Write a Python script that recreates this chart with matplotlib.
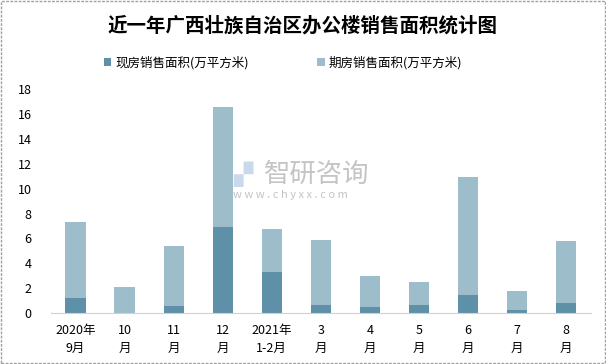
import matplotlib.pyplot as plt
import numpy as np

plt.rcParams['font.family'] = ['Noto Sans CJK SC', 'DejaVu Sans']

# 数据
months = ["2020年\n9月", "10\n月", "11\n月", "12\n月", "2021年\n1-2月",
          "3\n月", "4\n月", "5\n月", "6\n月", "7\n月", "8\n月"]
xianfang = [1.23, 0.02, 0.59, 6.93, 3.31, 0.67, 0.50, 0.67, 1.47, 0.27, 0.83]
total = [7.33, 2.11, 5.40, 16.56, 6.77, 5.88, 2.99, 2.51, 10.94, 1.79, 5.80]
qifang = [t - x for t, x in zip(total, xianfang)]

c_dark = "#5e91a8"
c_light = "#9ebdca"

fig = plt.figure(figsize=(6.06, 3.64), dpi=100)
ax = fig.add_axes([0.084, 0.14, 0.891, 0.615])

x = np.arange(len(months))
ax.bar(x, xianfang, width=0.41, color=c_dark, label="现房销售面积(万平方米)")
ax.bar(x, qifang, width=0.41, bottom=xianfang, color=c_light,
       label="期房销售面积(万平方米)")

ax.set_xlim(-0.5, len(months) - 0.5)
ax.set_ylim(0, 18)
ax.set_yticks(range(0, 19, 2))
ax.set_xticks(x)
ax.set_xticklabels(months, fontsize=9, linespacing=1.5)
ax.tick_params(axis='y', length=0, pad=14, labelsize=9)
ax.tick_params(axis='x', length=0, pad=8)
for s in ["top", "right", "left"]:
    ax.spines[s].set_visible(False)
ax.spines["bottom"].set_color("#d0d0d0")

# 水印
fig.text(0.385, 0.52, "▞", fontsize=18, color="#c9d8ea", ha="left", va="center",
         family=["DejaVu Sans"])
fig.text(0.435, 0.52, "智研咨询", fontsize=19, color="#c4c4c4", ha="left", va="center")
fig.text(0.385, 0.463, "w w w . c h y x x . c o m", fontsize=8, color="#c4c4c4",
         ha="left", va="center")

fig.text(0.5, 0.93, "近一年广西壮族自治区办公楼销售面积统计图", fontsize=14,
         fontweight="bold", ha="center", va="center")

ax.legend(loc="center", bbox_to_anchor=(0.43, 1.12), ncol=2, frameon=False,
          fontsize=9, handlelength=0.6, handleheight=0.6, columnspacing=5.5,
          handletextpad=0.3)

# 外框
fig.patches.append(plt.Rectangle((0.001, 0.002), 0.997, 0.995, transform=fig.transFigure,
                                 fill=False, edgecolor="#a0a0a0", linestyle=(0, (2, 1)),
                                 linewidth=1))

plt.savefig("out.png")
